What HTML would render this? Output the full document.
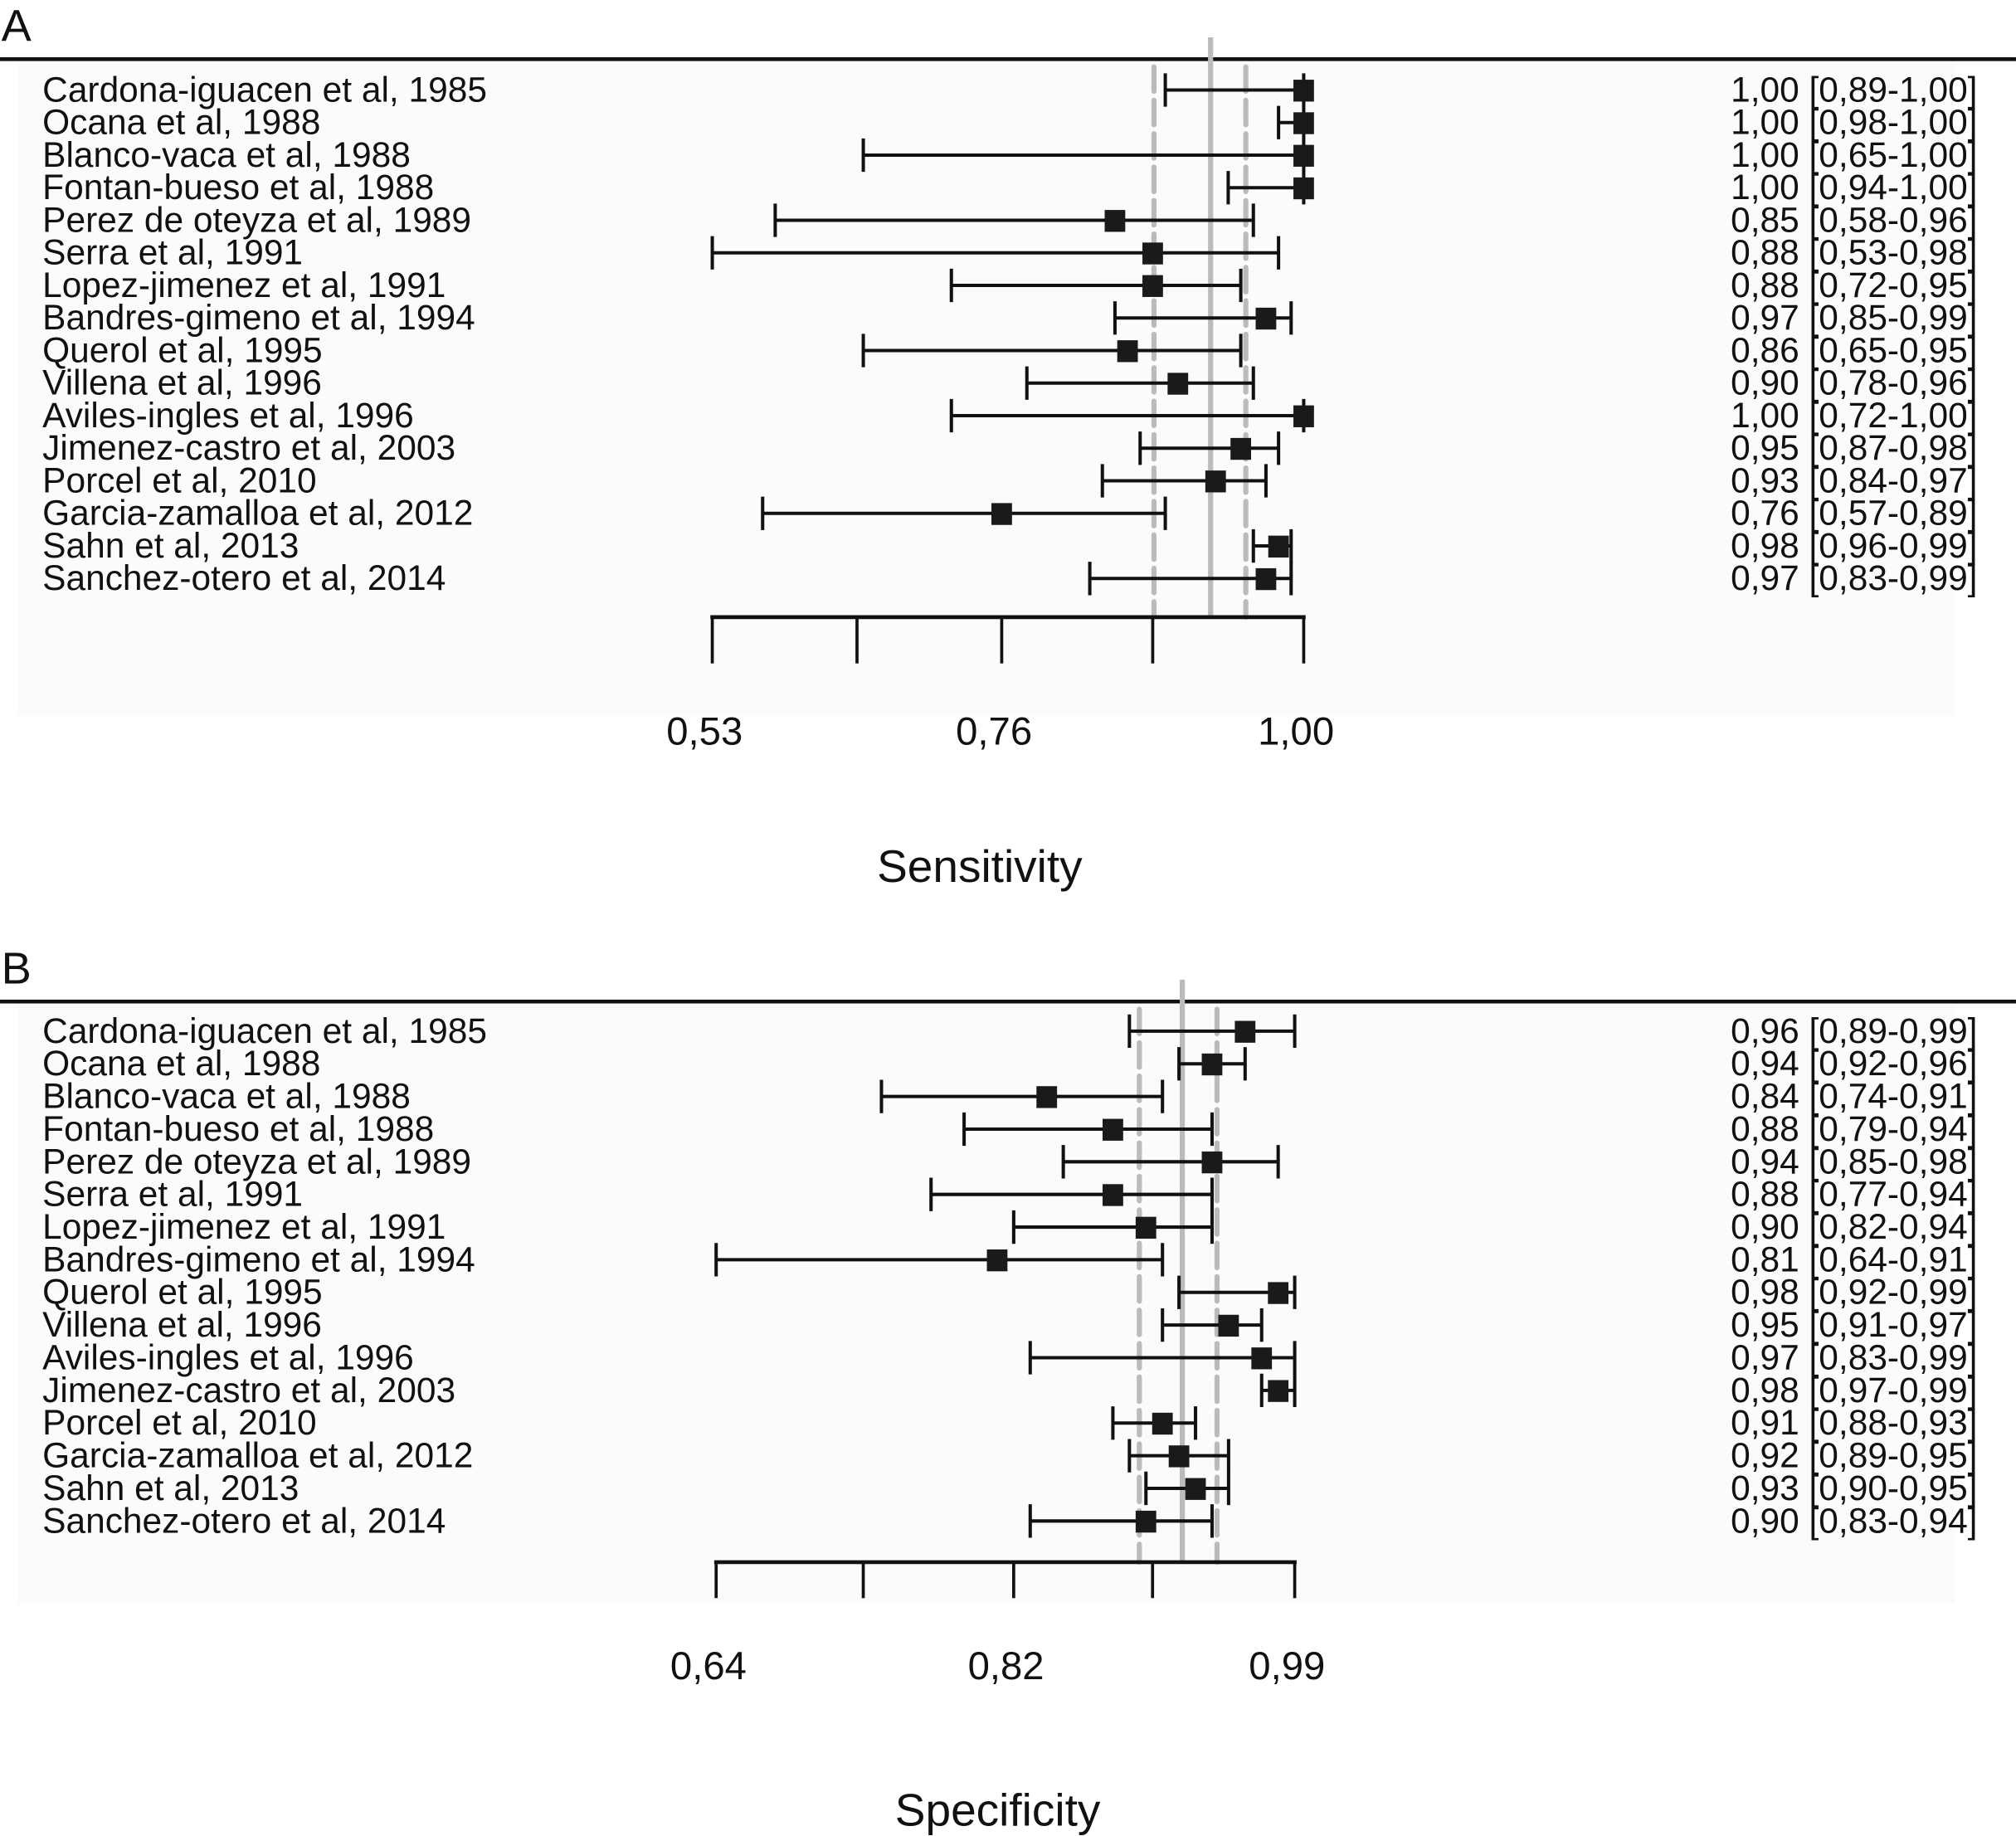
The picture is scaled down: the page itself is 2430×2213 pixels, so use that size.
<!DOCTYPE html>
<html><head><meta charset="utf-8"><style>
html,body{margin:0;padding:0;background:#fff}
svg{display:block}
text{font-family:"Liberation Sans",Arial,sans-serif;fill:#111}
</style></head><body>
<svg id="fig" width="2430" height="2213" viewBox="0 0 1568 1428" xmlns="http://www.w3.org/2000/svg">
<rect x="14" y="48" width="1506" height="508" fill="#fbfbfb"/>
<rect x="14" y="782" width="1506" height="465" fill="#fbfbfb"/>
</svg>
<script>
const studies = ["Cardona-iguacen et al, 1985","Ocana et al, 1988","Blanco-vaca et al, 1988","Fontan-bueso et al, 1988","Perez de oteyza et al, 1989","Serra et al, 1991","Lopez-jimenez et al, 1991","Bandres-gimeno et al, 1994","Querol et al, 1995","Villena et al, 1996","Aviles-ingles et al, 1996","Jimenez-castro et al, 2003","Porcel et al, 2010","Garcia-zamalloa et al, 2012","Sahn et al, 2013","Sanchez-otero et al, 2014"];
const sensEst = [1.00,1.00,1.00,1.00,0.85,0.88,0.88,0.97,0.86,0.90,1.00,0.95,0.93,0.76,0.98,0.97];
const sensLo  = [0.89,0.98,0.65,0.94,0.58,0.53,0.72,0.85,0.65,0.78,0.72,0.87,0.84,0.57,0.96,0.83];
const sensHi  = [1.00,1.00,1.00,1.00,0.96,0.98,0.95,0.99,0.95,0.96,1.00,0.98,0.97,0.89,0.99,0.99];
const sensTicks = [0.53,0.645,0.76,0.88,1.00];
const sensTickLabels = ["0,53","","0,76","","1,00"];
const sensSummary = [0.926,0.881,0.954];
const specEst = [0.96,0.94,0.84,0.88,0.94,0.88,0.90,0.81,0.98,0.95,0.97,0.98,0.91,0.92,0.93,0.90];
const specLo  = [0.89,0.92,0.74,0.79,0.85,0.77,0.82,0.64,0.92,0.91,0.83,0.97,0.88,0.89,0.90,0.83];
const specHi  = [0.99,0.96,0.91,0.94,0.98,0.94,0.94,0.91,0.99,0.97,0.99,0.99,0.93,0.95,0.95,0.94];
const specTicks = [0.64,0.729,0.82,0.904,0.99];
const specTickLabels = ["0,64","","0,82","","0,99"];
const specSummary = [0.922,0.896,0.943];

const NS="http://www.w3.org/2000/svg";
const svg=document.getElementById('fig');
function mk(tag,attrs,parent){const e=document.createElementNS(NS,tag);for(const k in attrs)e.setAttribute(k,attrs[k]);(parent||svg).appendChild(e);return e;}
function fmt(v){return v.toFixed(2).replace('.',',');}

function panel(cfg){
  const g=mk('g',{});
  
  
  const x=v=>cfg.x0+(v-cfg.v0)*(cfg.x1-cfg.x0)/(cfg.v1-cfg.v0);
  const rowY=i=>cfg.y0+i*cfg.dy;
  const t=mk('text',{x:1,y:cfg.lineY-14,'font-size':35},g);t.textContent=cfg.letter;
  
  
  const hl=mk('line',{x1:0,x2:1568,y1:cfg.lineY,y2:cfg.lineY,stroke:'#111','stroke-width':3},g);
  
  
  const sl=mk('line',{x1:x(cfg.sum[0]),x2:x(cfg.sum[0]),y1:cfg.lineY-17,y2:cfg.axisY,stroke:'#bbb','stroke-width':4},g);
  
  
  for(let k=1;k<3;k++){
    const d=mk('line',{x1:x(cfg.sum[k]),x2:x(cfg.sum[k]),y1:cfg.lineY+6,y2:cfg.axisY,stroke:'#bbb','stroke-width':4,'stroke-dasharray':'19 7','stroke-linecap':'round'},g);
    
    
  }
  cfg.names.forEach((n,i)=>{
    const y=rowY(i);
    const lb=mk('text',{x:33,y:y+9,'font-size':27.4},g);lb.textContent=n;
    
    
    const xl=x(cfg.lo[i]),xh=x(cfg.hi[i]),xe=x(cfg.est[i]);
    const ci=mk('path',{d:`M${xl},${y}H${xh}M${xl},${y-13}V${y+13}M${xh},${y-13}V${y+13}`,stroke:'#111','stroke-width':2.6,fill:'none'},g);
    
    
    const sq=mk('rect',{x:xe-8,y:y-8,width:16,height:17,fill:'#1a1a1a'},g);
    
    
    const vt=mk('text',{x:1538,y:y+9,'font-size':27.4,'text-anchor':'end'},g);
    vt.textContent=`${fmt(cfg.est[i])} [${fmt(cfg.lo[i])}-${fmt(cfg.hi[i])}]`;
    
    
  });
  const ax=mk('line',{x1:x(cfg.ticks[0])-1.5,x2:x(cfg.ticks[cfg.ticks.length-1])+1.5,y1:cfg.axisY,y2:cfg.axisY,stroke:'#111','stroke-width':3},g);
  
  
  cfg.ticks.forEach((v,i)=>{
    const tk=mk('line',{x1:x(v),x2:x(v),y1:cfg.axisY,y2:cfg.axisY+cfg.tickLen,stroke:'#111','stroke-width':2.4},g);
    
    
    if(cfg.tickLabels[i]){
      const tl=mk('text',{x:x(v)-6,y:cfg.tickLabelY,'font-size':30.5,'text-anchor':'middle'},g);
      tl.textContent=cfg.tickLabels[i];
      
      
    }
  });
  const at=mk('text',{x:cfg.titleX,y:cfg.titleY,'font-size':35.5,'text-anchor':'middle'},g);
  at.textContent=cfg.title;
  
  
}

panel({id:'sensitivity',letter:'A',lineY:46,y0:70,dy:25.33,names:studies,est:sensEst,lo:sensLo,hi:sensHi,
  v0:0.53,v1:1.00,x0:554,x1:1014,axisY:480,tickLen:36,ticks:sensTicks,tickLabels:sensTickLabels,tickLabelY:579,
  sum:sensSummary,title:'Sensitivity',titleX:762,titleY:686});
panel({id:'specificity',letter:'B',lineY:779,y0:802,dy:25.4,names:studies,est:specEst,lo:specLo,hi:specHi,
  v0:0.64,v1:0.99,x0:557,x1:1007,axisY:1215,tickLen:28,ticks:specTicks,tickLabels:specTickLabels,tickLabelY:1306,
  sum:specSummary,title:'Specificity',titleX:776,titleY:1420});
</script>
</body></html>
